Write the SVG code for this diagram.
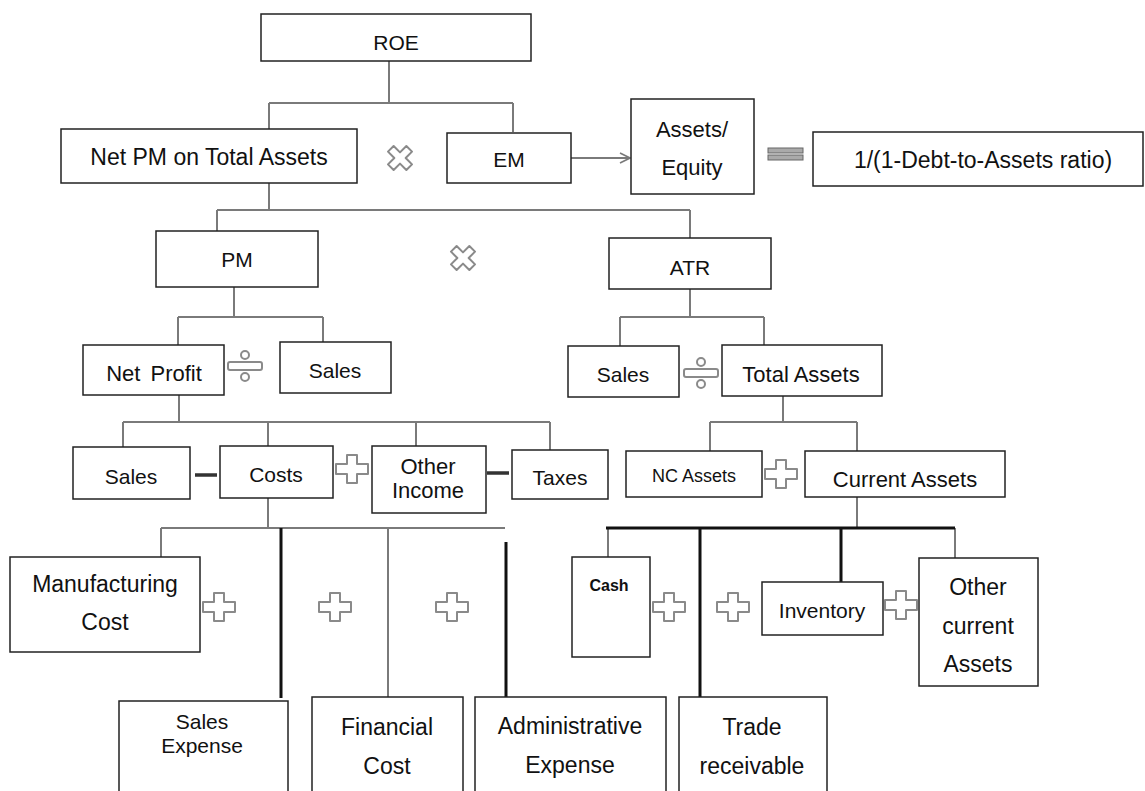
<svg xmlns="http://www.w3.org/2000/svg" width="1145" height="791" viewBox="0 0 1145 791">
<defs>
<style>
.box{fill:#fff;stroke:#222;stroke-width:1.5}
.t{font-family:"Liberation Sans",Arial,sans-serif;font-size:21px;fill:#111;text-anchor:middle}
.m{font-size:22px}
.l{font-size:23px}
.c{fill:none;stroke:#7a7a7a;stroke-width:2}
.k{fill:none;stroke:#111;stroke-width:3}
.op{fill:#fff;stroke:#8a8a8a;stroke-width:2;stroke-linejoin:round}
</style>
<marker id="arr" viewBox="0 0 12 12" refX="11" refY="6" markerWidth="12" markerHeight="12" markerUnits="userSpaceOnUse" orient="auto">
<path d="M1,1 L11,6 L1,11" fill="none" stroke="#7a7a7a" stroke-width="1.6"/>
</marker>
<path id="plus" class="op" d="M-5,-14 H5 V-5 H16 V5 H5 V14 H-5 V5 H-16 V-5 H-5 Z"/>
<path id="times" class="op" d="M-4,-13 H4 V-4 H13 V4 H4 V13 H-4 V4 H-13 V-4 H-4 Z" transform="rotate(45)"/>
<g id="div">
<rect class="op" x="-17" y="-4" width="34" height="8" rx="2"/>
<circle class="op" cx="0" cy="-11" r="4"/>
<circle class="op" cx="0" cy="11" r="4"/>
</g>
</defs>
<rect width="1145" height="791" fill="#fff"/>

<g id="connectors">
<path class="c" d="M389,61 V103 M269,103 H513 M269,103 V129 M513,103 V132"/>
<path class="c" d="M571,158 H630" marker-end="url(#arr)"/>
<path class="c" d="M269,183 V210 M217,210 H690 M217,210 V231 M690,210 V238"/>
<path class="c" d="M234,287 V317 M178,317 H323 M178,317 V345 M323,317 V342"/>
<path class="c" d="M690,289 V317 M620,317 H764 M620,317 V346 M764,317 V345"/>
<path class="c" d="M179,395 V422 M123,422 H550 M123,422 V449 M268,422 V446 M416,422 V446 M550,422 V450"/>
<path class="c" d="M783,396 V422 M710,422 H857 M710,422 V451 M857,422 V451"/>
<path class="c" d="M268,497 V528 M161,528 H505 M161,528 V557 M388,528 V697"/>
<path class="k" d="M281,528 V698 M506,542 V697"/>
<path class="c" d="M857,497 V528 M608,528 V557 M955,528 V558"/>
<path class="k" d="M606,528 H955 M700,528 V697 M841,528 V582"/>
</g>

<g id="operators">
<use href="#times" x="400" y="158"/>
<use href="#times" x="463" y="258"/>
<g id="equals"><rect x="768" y="148" width="35" height="5" fill="#aaa" stroke="#666" stroke-width="1"/><rect x="768" y="155" width="35" height="5" fill="#aaa" stroke="#666" stroke-width="1"/></g>
<use href="#div" x="245" y="366"/>
<use href="#div" x="701" y="373"/>
<path d="M195,475 H217 M487,473 H509" stroke="#333" stroke-width="3.5"/>
<use href="#plus" x="352" y="469"/>
<use href="#plus" x="781" y="474"/>
<use href="#plus" x="219" y="607"/>
<use href="#plus" x="335" y="607"/>
<use href="#plus" x="452" y="607"/>
<use href="#plus" x="669" y="607"/>
<use href="#plus" x="733" y="607"/>
<use href="#plus" x="901" y="605"/>
</g>

<g id="roe"><rect class="box" x="261" y="14" width="270" height="47"/><text class="t" x="396" y="50">ROE</text></g>
<g id="netpm"><rect class="box" x="61" y="129" width="296" height="54"/><text class="t l" x="209" y="165">Net PM on Total Assets</text></g>
<g id="em"><rect class="box" x="447" y="133" width="124" height="50"/><text class="t" x="509" y="167">EM</text></g>
<g id="assetsequity"><rect class="box" x="631" y="99" width="123" height="95"/><text class="t m" x="692" y="137">Assets/</text><text class="t m" x="692" y="175">Equity</text></g>
<g id="debtratio"><rect class="box" x="813" y="132" width="330" height="54"/><text class="t l" x="983" y="168">1/(1-Debt-to-Assets ratio)</text></g>
<g id="pm"><rect class="box" x="156" y="231" width="162" height="56"/><text class="t" x="237" y="267">PM</text></g>
<g id="atr"><rect class="box" x="609" y="238" width="162" height="51"/><text class="t" x="690" y="275">ATR</text></g>
<g id="netprofit"><rect class="box" x="83" y="345" width="141" height="50"/><text class="t m" x="154" y="381" word-spacing="4">Net Profit</text></g>
<g id="sales1"><rect class="box" x="280" y="342" width="111" height="51"/><text class="t" x="335" y="378">Sales</text></g>
<g id="sales2"><rect class="box" x="568" y="346" width="111" height="51"/><text class="t" x="623" y="382">Sales</text></g>
<g id="totalassets"><rect class="box" x="722" y="345" width="160" height="51"/><text class="t m" x="801" y="382">Total Assets</text></g>
<g id="sales3"><rect class="box" x="73" y="447" width="117" height="52"/><text class="t" x="131" y="484">Sales</text></g>
<g id="costs"><rect class="box" x="220" y="446" width="113" height="52"/><text class="t" x="276" y="482">Costs</text></g>
<g id="otherincome"><rect class="box" x="372" y="446" width="114" height="67"/><text class="t m" x="428" y="474">Other</text><text class="t m" x="428" y="498">Income</text></g>
<g id="taxes"><rect class="box" x="512" y="450" width="96" height="49"/><text class="t" x="560" y="485">Taxes</text></g>
<g id="ncassets"><rect class="box" x="626" y="451" width="136" height="46"/><text class="t" x="694" y="482" style="font-size:18px">NC Assets</text></g>
<g id="currentassets"><rect class="box" x="805" y="451" width="200" height="46"/><text class="t m" x="905" y="487">Current Assets</text></g>
<g id="manufacturing"><rect class="box" x="10" y="557" width="190" height="95"/><text class="t l" x="105" y="592">Manufacturing</text><text class="t l" x="105" y="630">Cost</text></g>
<g id="salesexpense"><rect class="box" x="119" y="701" width="169" height="95"/><text class="t" x="202" y="729">Sales</text><text class="t" x="202" y="753">Expense</text></g>
<g id="financialcost"><rect class="box" x="312" y="697" width="151" height="99"/><text class="t l" x="387" y="735">Financial</text><text class="t l" x="387" y="774">Cost</text></g>
<g id="adminexpense"><rect class="box" x="475" y="697" width="191" height="99"/><text class="t l" x="570" y="734">Administrative</text><text class="t l" x="570" y="773">Expense</text></g>
<g id="cash"><rect class="box" x="572" y="557" width="78" height="100"/><text class="t" x="609" y="591" style="font-size:16px;font-weight:bold">Cash</text></g>
<g id="tradereceivable"><rect class="box" x="679" y="697" width="148" height="99"/><text class="t l" x="752" y="735">Trade</text><text class="t l" x="752" y="774">receivable</text></g>
<g id="inventory"><rect class="box" x="762" y="582" width="121" height="53"/><text class="t" x="822" y="618" style="font-size:21px">Inventory</text></g>
<g id="othercurrent"><rect class="box" x="919" y="558" width="119" height="128"/><text class="t l" x="978" y="595">Other</text><text class="t l" x="978" y="634">current</text><text class="t l" x="978" y="672">Assets</text></g>
</svg>
